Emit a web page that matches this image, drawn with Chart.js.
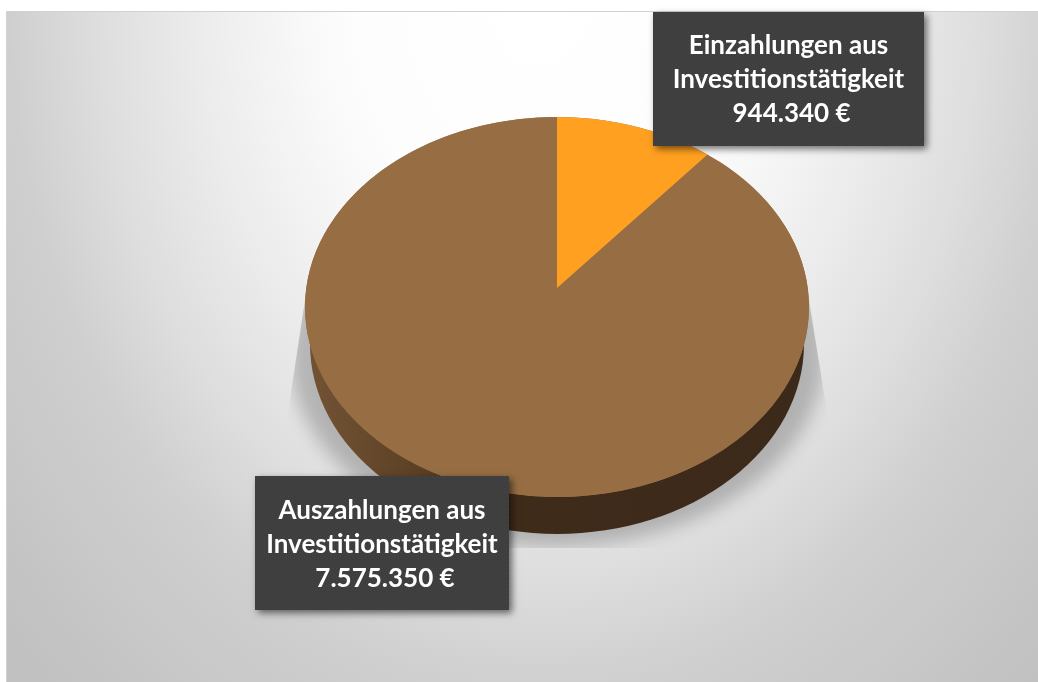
<!DOCTYPE html>
<html><head><meta charset="utf-8">
<style>html,body{margin:0;padding:0;background:#fff;overflow:hidden}canvas{display:block}</style>
<script src="https://cdn.jsdelivr.net/npm/chart.js@4/dist/chart.umd.min.js"></script>
</head><body><div style="width:1038px;height:682px"><canvas id="c"></canvas></div>
<script>
const categories = [['Einzahlungen aus','Investitionstätigkeit'], ['Auszahlungen aus','Investitionstätigkeit']];
const values = [944340, 7575350];
const sliceColors = ['#FFA020', '#976E43'];
const fmt = v => String(v).replace(/\B(?=(\d{3})+$)/g,'.') + ' €';

const TOP = {cx:557, cy:307, ry:190};
const BOT = {cy:344, rx:247, ry:190};
const APEX = {x:557, y:288, edgeX:707, edgeY:155, topY:117};
const BOXES = [{x:653,y:12,w:271,h:134,textY:46,valueDx:3},{x:255,y:476,w:254,h:134,textY:511,valueDx:3}];

function ellipsePath(ctx,cx,cy,rx,ry){ctx.beginPath();ctx.ellipse(cx,cy,rx,ry,0,0,Math.PI*2);ctx.closePath();}

const scene = {
  id:'scene',
  beforeDraw(chart){
    const ctx=chart.ctx;
    ctx.save();
    ctx.fillStyle='#fff';ctx.fillRect(0,0,1038,682);
    ctx.fillStyle='#d2d2d2';ctx.fillRect(6,11,1032,671);
    ctx.beginPath();ctx.rect(7,12,1031,670);ctx.clip();
    ctx.translate(540,0);ctx.scale(530,690);
    const g=ctx.createRadialGradient(0,0,0,0,0,1.4);
    [[0,'#ffffff'],[.35,'#fdfdfd'],[.45,'#f8f8f8'],[.64,'#ececec'],[.83,'#dedede'],[1,'#cfcfcf'],[1.35,'#c1c1c1']]
      .forEach(([t,c])=>g.addColorStop(t/1.4,c));
    ctx.fillStyle=g;ctx.fillRect(-2,-1,4,2);
    ctx.restore();
  },
  beforeDatasetsDraw(chart){
    const ctx=chart.ctx, els=chart.getDatasetMeta(0).data, a0=els[0], a1=els[1], r=a1.outerRadius;
    const k=TOP.ry/r;
    // shadow
    ctx.save();
    ctx.beginPath();ctx.moveTo(305,300);ctx.lineTo(809,300);ctx.lineTo(827,412);ctx.lineTo(827,548);ctx.lineTo(288,548);ctx.lineTo(288,412);ctx.closePath();ctx.clip();
    ctx.filter='blur(9px)';ctx.fillStyle='rgba(0,0,0,.22)';
    ellipsePath(ctx,TOP.cx,350,268,196);ctx.fill();
    ctx.restore();
    // side wall
    ctx.save();
    const sg=ctx.createLinearGradient(305,0,809,0);
    sg.addColorStop(0,'#735334');sg.addColorStop(.2,'#5f4327');sg.addColorStop(.42,'#3f2b1a');sg.addColorStop(1,'#3b291a');
    ctx.fillStyle=sg;
    ellipsePath(ctx,TOP.cx,BOT.cy,BOT.rx,BOT.ry);ctx.fill();
    ctx.restore();
    // top face: large slice via the library, with its own colour filling the wedge beneath
    ctx.save();
    ctx.translate(TOP.cx,TOP.cy);ctx.scale(1,k);ctx.translate(-a1.x,-a1.y);
    ctx.fillStyle=sliceColors[1];
    ellipsePath(ctx,a1.x,a1.y,r,r);ctx.fill();
    a1.draw(ctx);
    ctx.restore();
    // small slice: same library arc, projected with the perspective apex and clipped to the face
    ctx.save();
    ellipsePath(ctx,TOP.cx,TOP.cy,r,TOP.ry);ctx.clip();
    const t=a0.circumference, o=1.35;
    const d=o*(APEX.y-APEX.topY)/r;
    const a=o*(APEX.edgeX-APEX.x)/(r*Math.sin(t));
    const b=(d*Math.cos(t)-o*(APEX.y-APEX.edgeY)/r)/Math.sin(t);
    ctx.transform(a,b,0,d,APEX.x,APEX.y);
    ctx.translate(-a0.x,-a0.y);
    a0.draw(ctx);
    ctx.restore();
    return false;
  },
  afterDraw(chart){
    const ctx=chart.ctx;
    const tile=document.createElement('canvas');tile.width=tile.height=4;
    const tc=tile.getContext('2d');tc.fillStyle='#3e3e3e';tc.fillRect(0,0,4,4);tc.fillStyle='#474747';tc.fillRect(0,0,1,1);tc.fillRect(2,2,1,1);
    const pat=ctx.createPattern(tile,'repeat');
    BOXES.forEach((bx,i)=>{
      ctx.save();
      ctx.shadowColor='rgba(0,0,0,.55)';ctx.shadowBlur=7;ctx.shadowOffsetX=3;ctx.shadowOffsetY=3;
      ctx.fillStyle='#3f3f3f';ctx.fillRect(bx.x,bx.y,bx.w,bx.h);
      ctx.restore();
      ctx.fillStyle=pat;ctx.fillRect(bx.x,bx.y,bx.w,bx.h);
      ctx.fillStyle='#fff';ctx.font='bold 26px Lato';ctx.textAlign='center';ctx.textBaseline='middle';
      const mx=bx.x+bx.w/2;
      categories[i].forEach((s,j)=>ctx.fillText(s,mx,bx.textY+j*34));
      ctx.fillText(fmt(values[i]),mx+bx.valueDx,bx.textY+68);
    });
  }
};

new Chart(document.getElementById('c'),{
  type:'pie',
  data:{labels:categories.map(c=>c.join(' ')),datasets:[{data:values,backgroundColor:sliceColors,borderWidth:0}]},
  options:{responsive:true,maintainAspectRatio:false,animation:false,
    layout:{padding:{left:305,right:229,top:89,bottom:89}},
    plugins:{legend:{display:false},tooltip:{enabled:false}}},
  plugins:[scene]
});
</script></body></html>
